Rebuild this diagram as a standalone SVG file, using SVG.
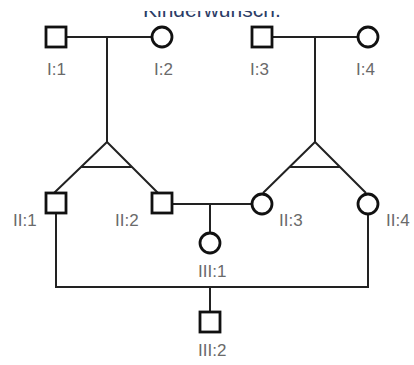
<svg xmlns="http://www.w3.org/2000/svg" width="414" height="365" viewBox="0 0 414 365">
<style>
.ln{stroke:#222;stroke-width:2;fill:none}
.nd{stroke:#111;stroke-width:2.8;fill:#fff}
.lb{font-family:"Liberation Sans",Arial,sans-serif;font-size:17px;fill:#6a6a6a}
.tt{font-family:"Liberation Sans",Arial,sans-serif;font-size:21px;fill:#2b3c66}
</style>
<defs><clipPath id="topclip"><rect x="0" y="11" width="414" height="10"/></clipPath></defs>
<rect width="414" height="365" fill="#fff"/>
<text class="tt" x="143" y="17" clip-path="url(#topclip)">Kinderwunsch.</text>
<g id="connectors">
<path class="ln" d="M66 37H152M107 37V142M272 37H358M315 37V142"/>
<path class="ln" d="M107 142L54 193M107 142L158 193M81 167H132"/>
<path class="ln" d="M315 142L263 193M315 142L366 193M289 167H340"/>
<path class="ln" d="M172 204H252M210 204V233"/>
<path class="ln" d="M56 213V287H368V214M210 287V312"/>
</g>
<g id="I1"><rect class="nd" x="46" y="27" width="20" height="20"/><text class="lb" x="47" y="75">I:1</text></g>
<g id="I2"><circle class="nd" cx="162" cy="37" r="10"/><text class="lb" x="154" y="75">I:2</text></g>
<g id="I3"><rect class="nd" x="252" y="27" width="20" height="20"/><text class="lb" x="250" y="75">I:3</text></g>
<g id="I4"><circle class="nd" cx="368" cy="37" r="10"/><text class="lb" x="356" y="75">I:4</text></g>
<g id="II1"><rect class="nd" x="46" y="193" width="20" height="20"/><text class="lb" x="13" y="226">II:1</text></g>
<g id="II2"><rect class="nd" x="152" y="193" width="20" height="20"/><text class="lb" x="115" y="226">II:2</text></g>
<g id="II3"><circle class="nd" cx="262" cy="204" r="10"/><text class="lb" x="279" y="226">II:3</text></g>
<g id="II4"><circle class="nd" cx="368" cy="204" r="10"/><text class="lb" x="386" y="226">II:4</text></g>
<g id="III1"><circle class="nd" cx="210" cy="243" r="10"/><text class="lb" x="198" y="277">III:1</text></g>
<g id="III2"><rect class="nd" x="200" y="312" width="20" height="20"/><text class="lb" x="198" y="356">III:2</text></g>
</svg>
